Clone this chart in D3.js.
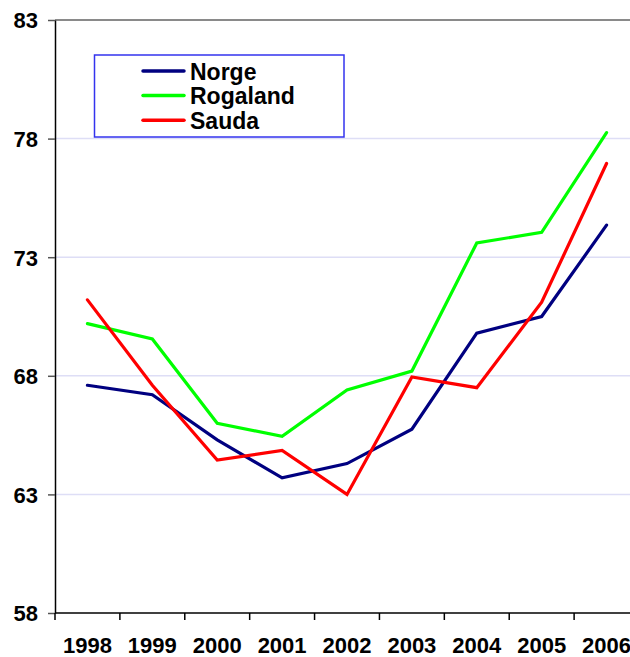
<!DOCTYPE html>
<html>
<head>
<meta charset="utf-8">
<script src="https://cdnjs.cloudflare.com/ajax/libs/d3/7.8.5/d3.min.js"></script>
<style>
body { margin: 0; background: #fff; }
svg { display: block; font-family: Arial, "Liberation Sans", sans-serif; }
</style>
</head>
<body>
<svg></svg>
<script>
var years = ["1998", "1999", "2000", "2001", "2002", "2003", "2004", "2005", "2006"];
var norge = [67.6, 67.2, 65.3, 63.7, 64.3, 65.75, 69.8, 70.5, 74.35];
var rogaland = [70.2, 69.55, 66.0, 65.45, 67.4, 68.2, 73.6, 74.05, 78.25];
var sauda = [71.2, 67.6, 64.45, 64.85, 63.0, 67.95, 67.5, 71.1, 76.95];
var yTicks = [58, 63, 68, 73, 78, 83];

var seriesNames = ["Norge", "Rogaland", "Sauda"];
var seriesColors = ["#000080", "#00ff00", "#ff0000"];
var seriesValues = [norge, rogaland, sauda];

var margins = {
"top": 20,
"left": 55,
"bottom": 44,
"right": -9
}
var totalW = 630, totalH = 657;
var width = totalW - margins.left - margins.right;
var height = totalH - margins.top - margins.bottom;

var svg = d3.select("svg")
.attr("width", totalW)
.attr("height", totalH)

var xScale = d3.scaleBand().domain(years).range([0, width])
var yScale = d3.scaleLinear().domain([58, 83]).range([height, 0])

var g = svg.append("g")
.attr("transform", "translate(" + margins.left + "," + margins.top + ")")

// gridlines, top one is grey
g.append("g").selectAll("line")
.data(yTicks.filter(function(d){return d > 58}))
.enter()
.append("line")
.attr("x1", 0)
.attr("x2", width)
.attr("y1", function(d){return yScale(d)})
.attr("y2", function(d){return yScale(d)})
.style("stroke", function(d){return d == 83 ? "#8a8a8a" : "#dedef6"})
.style("stroke-width", function(d){return d == 83 ? 2 : 1.5})

var yAxis = d3.axisLeft(yScale).tickValues(yTicks).tickSize(7).tickSizeOuter(0).tickPadding(10).tickFormat(d3.format("d"))
var yAxisG = g.append("g").call(yAxis)
yAxisG.select(".domain").style("stroke", "#000").style("stroke-width", 1.5)
yAxisG.selectAll(".tick line").style("stroke", "#555").style("stroke-width", 1.5)
yAxisG.selectAll(".tick text")
.style("font-size", "22px")
.style("font-weight", "bold")
.style("fill", "#000")
.attr("dy", "0.36em")

// x axis: line, ticks between categories, labels centred
var xAxisG = g.append("g").attr("transform", "translate(0," + height + ")")
xAxisG.append("line")
.attr("x1", 0).attr("x2", width)
.style("stroke", "#000").style("stroke-width", 1.5)
xAxisG.selectAll("line.sep")
.data(years)
.enter()
.append("line")
.attr("class", "sep")
.attr("x1", function(d){return xScale(d)})
.attr("x2", function(d){return xScale(d)})
.attr("y1", 0).attr("y2", 7)
.style("stroke", "#000").style("stroke-width", 1.5)
xAxisG.selectAll("text")
.data(years)
.enter()
.append("text")
.attr("x", function(d){return xScale(d) + xScale.bandwidth() / 2})
.attr("y", 40)
.attr("text-anchor", "middle")
.style("font-size", "22px")
.style("font-weight", "bold")
.text(function(d){return d})

var line = d3.line()
.x(function(d, i){return xScale(years[i]) + xScale.bandwidth() / 2})
.y(function(d){return yScale(d)})

g.append("g").selectAll("path")
.data(seriesValues)
.enter()
.append("path")
.attr("d", line)
.style("fill", "none")
.style("stroke", function(d, i){return seriesColors[i]})
.style("stroke-width", 3.2)
.style("stroke-linejoin", "miter")
.style("stroke-linecap", "round")

// legend
var legend = svg.append("g")
legend.append("rect")
.attr("x", 94.5).attr("y", 55)
.attr("width", 249.5).attr("height", 82)
.style("fill", "#fff")
.style("stroke", "#3333ee")
.style("stroke-width", 1.5)

var items = legend.selectAll("g.item")
.data(seriesNames)
.enter()
.append("g")
.attr("class", "item")
.attr("transform", function(d, i){return "translate(0," + (71 + i * 24.6) + ")"})
items.append("line")
.attr("x1", 143).attr("x2", 184)
.style("stroke", function(d, i){return seriesColors[i]})
.style("stroke-width", 3.5)
.style("stroke-linecap", "round")
items.append("text")
.attr("x", 190)
.attr("y", 8.5)
.style("font-size", "23px")
.style("font-weight", "bold")
.text(function(d){return d})
</script>
</body>
</html>
